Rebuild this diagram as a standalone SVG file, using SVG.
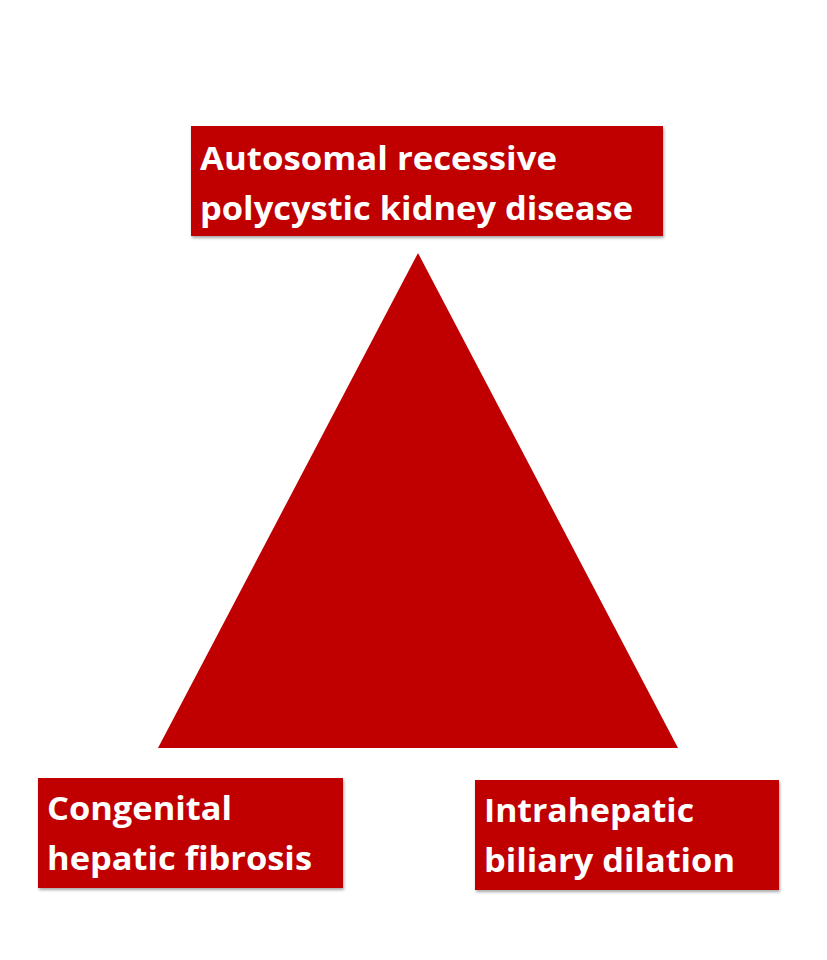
<svg xmlns="http://www.w3.org/2000/svg" width="827" height="960" viewBox="0 0 827 960">
<defs>
<filter id="sh" x="-5%" y="-5%" width="112%" height="120%">
<feDropShadow dx="1" dy="2" stdDeviation="1.5" flood-color="#000" flood-opacity="0.35"/>
</filter>
</defs>
<style>
.box{fill:#c00000;filter:url(#sh)}
.t{font-family:"Open Sans","Liberation Sans",Arial,sans-serif;font-weight:bold;font-size:33px;fill:#fff}
</style>
<rect width="827" height="960" fill="#fff"/>
<g id="triangle">
<polygon points="418,253 678,748 158,748" fill="#c00000"/>
</g>
<g id="connectors"></g>
<g id="node-top">
<rect class="box" x="191" y="126" width="472" height="110"/>
<text class="t" x="200" y="170" textLength="357" lengthAdjust="spacingAndGlyphs">Autosomal recessive</text>
<text class="t" x="200" y="220" textLength="433" lengthAdjust="spacingAndGlyphs">polycystic kidney disease</text>
</g>
<g id="node-left">
<rect class="box" x="38" y="778" width="305" height="110"/>
<text class="t" x="47" y="820" textLength="185" lengthAdjust="spacingAndGlyphs">Congenital</text>
<text class="t" x="47" y="870" textLength="265" lengthAdjust="spacingAndGlyphs">hepatic fibrosis</text>
</g>
<g id="node-right">
<rect class="box" x="475" y="780" width="304" height="110"/>
<text class="t" x="484" y="822" textLength="210" lengthAdjust="spacingAndGlyphs">Intrahepatic</text>
<text class="t" x="484" y="872" textLength="251" lengthAdjust="spacingAndGlyphs">biliary dilation</text>
</g>
</svg>
